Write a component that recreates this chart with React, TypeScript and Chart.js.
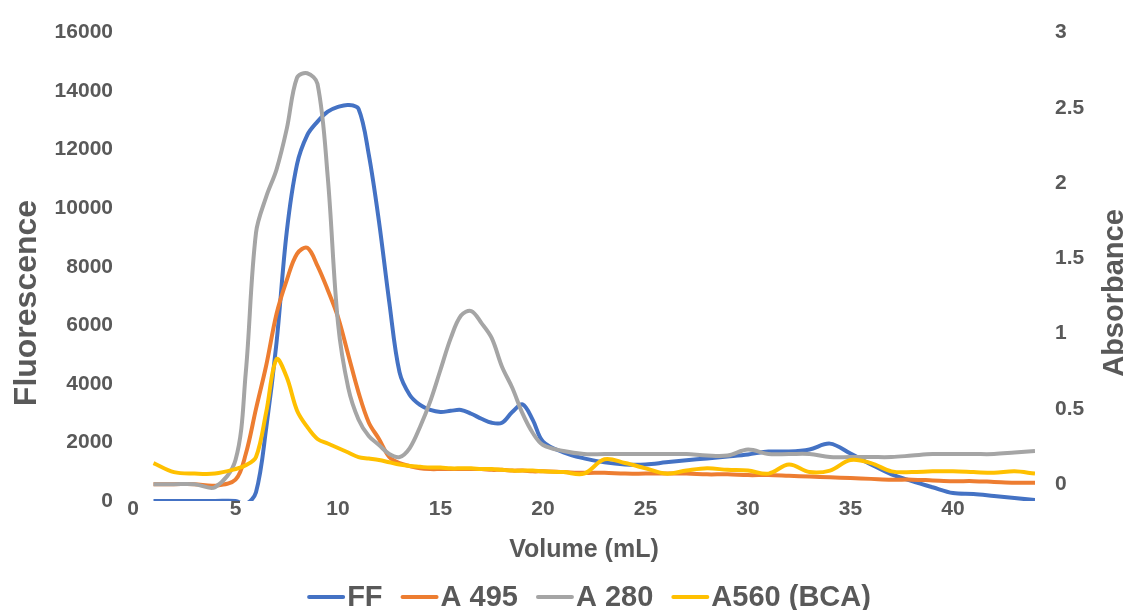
import React, { useEffect, useRef } from 'react';
import { Chart, registerables } from 'chart.js';

Chart.register(...registerables);

// Elution volume (mL)
const volume = [
  1, 2, 3, 4, 5,
  5.5, 6, 6.5, 7, 7.5, 8, 8.5, 9, 9.5, 10, 10.5, 11, 11.5, 12, 12.5, 13, 13.5, 14, 14.5, 15,
  15.5, 16, 16.5, 17, 17.5, 18, 18.5, 19, 19.5, 20,
  21, 22, 23, 24, 25, 26, 27, 28, 29, 30, 31, 32, 33, 34, 35, 36, 37, 38, 39, 40, 41, 42, 43, 44,
];

// Fluorescence (left axis)
const ffValues = [
  0, 0, 0, 0, 0,
  -100, 300, 2500, 5400, 9200, 11500, 12500, 12960, 13300, 13460, 13530, 13400, 11840, 9540, 6800, 4400, 3620, 3280, 3110, 3040,
  3080, 3110, 2980, 2810, 2670, 2670, 3040, 3300, 2770, 2030,
  1660, 1455, 1320, 1250, 1250, 1320, 1390, 1455, 1520, 1590, 1690, 1690, 1760, 1960, 1620, 1250, 910, 680, 470, 270, 240, 170, 100, 30,
];

// Absorbance (right axis)
const a495Values = [
  0, 0, 0, -0.01, 0.03,
  0.2, 0.5, 0.79, 1.13, 1.355, 1.53, 1.57, 1.45, 1.29, 1.11, 0.86, 0.61, 0.41, 0.3, 0.18, 0.14, 0.12, 0.105, 0.1, 0.1,
  0.1, 0.1, 0.1, 0.1, 0.095, 0.095, 0.09, 0.09, 0.085, 0.085,
  0.08, 0.075, 0.075, 0.07, 0.07, 0.07, 0.07, 0.065, 0.065, 0.06, 0.06, 0.055, 0.05, 0.045, 0.04, 0.035, 0.03, 0.03, 0.025, 0.02, 0.02, 0.015, 0.01, 0.01,
];

const a280Values = [
  0, 0, 0, -0.02, 0.16,
  0.74, 1.67, 1.91, 2.09, 2.36, 2.7, 2.73, 2.66, 2.04, 1.07, 0.64, 0.43, 0.32, 0.26, 0.2, 0.18, 0.24, 0.38, 0.55, 0.76,
  0.97, 1.12, 1.15, 1.07, 0.97, 0.78, 0.64, 0.47, 0.34, 0.26,
  0.22, 0.2, 0.2, 0.2, 0.2, 0.2, 0.2, 0.19, 0.19, 0.23, 0.2, 0.2, 0.2, 0.18, 0.18, 0.18, 0.18, 0.19, 0.2, 0.2, 0.2, 0.2, 0.21, 0.22,
];

const a560Values = [
  0.14, 0.08, 0.07, 0.07, 0.1,
  0.125, 0.18, 0.48, 0.83, 0.71, 0.49, 0.38, 0.3, 0.27, 0.24, 0.21, 0.18, 0.17, 0.16, 0.145, 0.13, 0.12, 0.115, 0.11, 0.11,
  0.105, 0.105, 0.105, 0.1, 0.1, 0.095, 0.09, 0.09, 0.09, 0.085,
  0.08, 0.07, 0.165, 0.14, 0.105, 0.07, 0.09, 0.105, 0.095, 0.09, 0.07, 0.13, 0.08, 0.09, 0.16, 0.14, 0.085, 0.08, 0.085, 0.085, 0.08, 0.075, 0.085, 0.07,
];

const seriesNames = ['FF', 'A 495', 'A 280', 'A560 (BCA)'];
const seriesColors = ['#4472C4', '#ED7D31', '#A5A5A5', '#FFC000'];

const xTicks = [0, 5, 10, 15, 20, 25, 30, 35, 40];
const leftTicks = [0, 2000, 4000, 6000, 8000, 10000, 12000, 14000, 16000];
const rightTicks = [0, 0.5, 1, 1.5, 2, 2.5, 3];

const xTitle = 'Volume (mL)';
const leftTitle = 'Fluorescence';
const rightTitle = 'Absorbance';

const FONT = '"Liberation Sans", Arial, sans-serif';
const TEXT = '#595959';

const overlayPlugin = {
  id: 'overlayText',
  afterDraw(chart: any) {
    const ctx = chart.ctx as CanvasRenderingContext2D;
    ctx.save();
    ctx.fillStyle = TEXT;
    ctx.textAlign = 'center';
    ctx.textBaseline = 'middle';

    ctx.save();
    ctx.font = `bold 32px ${FONT}`;
    ctx.translate(27, 303);
    ctx.rotate(-Math.PI / 2);
    ctx.fillText(leftTitle, 0, 0);
    ctx.restore();

    ctx.save();
    ctx.font = `bold 29px ${FONT}`;
    ctx.translate(1115, 293);
    ctx.rotate(-Math.PI / 2);
    ctx.fillText(rightTitle, 0, 0);
    ctx.restore();

    // legend
    ctx.font = `bold 29px ${FONT}`;
    ctx.textAlign = 'left';
    const lineLen = 38;
    const gapLT = 2;
    const gapItem = 18;
    const widths = seriesNames.map((n) => ctx.measureText(n).width);
    const total =
      widths.reduce((a, b) => a + b, 0) + seriesNames.length * (lineLen + gapLT) + (seriesNames.length - 1) * gapItem;
    let x = 589 - total / 2;
    const y = 597;
    seriesNames.forEach((name, i) => {
      ctx.beginPath();
      ctx.strokeStyle = seriesColors[i];
      ctx.lineWidth = 4;
      ctx.lineCap = 'round';
      ctx.moveTo(x + 2, y);
      ctx.lineTo(x + lineLen - 2, y);
      ctx.stroke();
      x += lineLen + gapLT;
      ctx.fillText(name, x, y + 1);
      x += widths[i] + gapItem;
    });
    ctx.restore();
  },
};

function toPoints(values: number[]) {
  return volume.map((v, i) => ({ x: v, y: values[i] }));
}

export default function App() {
  const canvasRef = useRef<HTMLCanvasElement | null>(null);

  useEffect(() => {
    if (!canvasRef.current) return;
    const seriesValues = [ffValues, a495Values, a280Values, a560Values];
    const axes = ['yLeft', 'yRight', 'yRight', 'yRight'];
    const chart = new Chart(canvasRef.current, {
      type: 'line',
      data: {
        datasets: seriesNames.map((name, i) => ({
          label: name,
          data: toPoints(seriesValues[i]),
          borderColor: seriesColors[i],
          backgroundColor: seriesColors[i],
          borderWidth: 4,
          pointRadius: 0,
          tension: 0.35,
          fill: false,
          yAxisID: axes[i],
          order: 4 - i,
        })),
      },
      options: {
        animation: false,
        responsive: false,
        devicePixelRatio: 1,
        layout: { padding: { top: 24, left: 0, right: 0, bottom: 0 } },
        plugins: {
          legend: { display: false },
          tooltip: { enabled: false },
        },
        scales: {
          x: {
            type: 'linear',
            min: 0,
            max: 44,
            grid: { display: false, drawTicks: false },
            border: { display: false },
            afterBuildTicks: (scale: any) => {
              scale.ticks = xTicks.map((v) => ({ value: v }));
            },
            afterFit: (scale: any) => {
              scale.height = 109;
            },
            ticks: {
              padding: -4,
              color: TEXT,
              font: { family: FONT, size: 21, weight: 'bold' },
              maxRotation: 0,
              callback: (v: any) => String(v),
            },
            title: {
              display: true,
              text: xTitle,
              color: TEXT,
              font: { family: FONT, size: 25, weight: 'bold' },
              padding: { top: 0, bottom: 45 },
            },
          },
          yLeft: {
            type: 'linear',
            position: 'left',
            min: 0,
            max: 16000,
            grid: { display: false, drawTicks: false },
            border: { display: false },
            afterBuildTicks: (scale: any) => {
              scale.ticks = leftTicks.map((v) => ({ value: v }));
            },
            afterFit: (scale: any) => {
              scale.width = 133;
            },
            ticks: {
              padding: 20,
              color: TEXT,
              font: { family: FONT, size: 21, weight: 'bold' },
              callback: (v: any) => String(v),
            },
          },
          yRight: {
            type: 'linear',
            position: 'right',
            min: -0.112,
            max: 3,
            grid: { display: false, drawTicks: false },
            border: { display: false },
            afterBuildTicks: (scale: any) => {
              scale.ticks = rightTicks.map((v) => ({ value: v }));
            },
            afterFit: (scale: any) => {
              scale.width = 91;
            },
            ticks: {
              padding: 20,
              color: TEXT,
              font: { family: FONT, size: 21, weight: 'bold' },
              callback: (v: any) => String(v),
            },
          },
        },
      } as any,
      plugins: [overlayPlugin],
    });
    return () => chart.destroy();
  }, []);

  return (
    <div style={{ position: 'fixed', left: 0, top: 0, width: 1126, height: 610, background: '#fff' }}>
      <canvas ref={canvasRef} width={1126} height={610} style={{ width: 1126, height: 610, display: 'block' }} />
    </div>
  );
}
